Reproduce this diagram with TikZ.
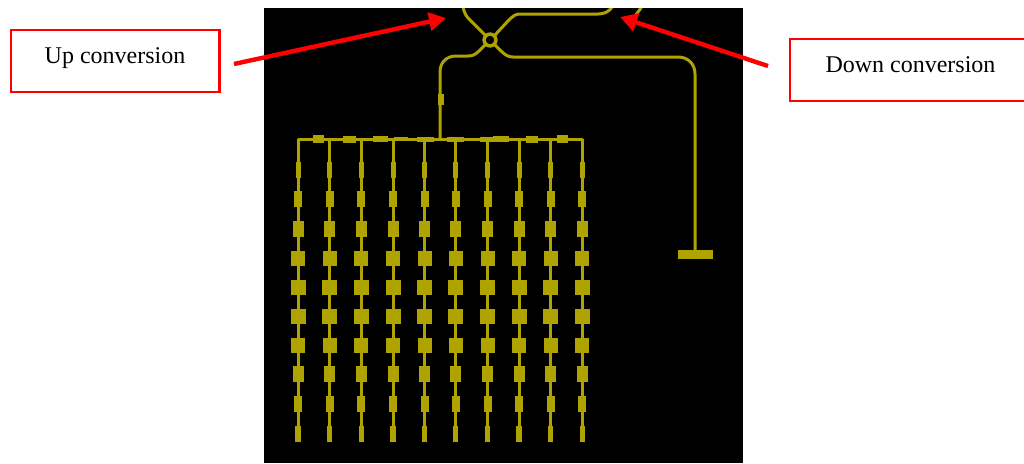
\documentclass[tikz,border=0pt]{standalone}
\usepackage{fontspec}
\setmainfont{Liberation Serif}
\usetikzlibrary{arrows.meta}
\definecolor{patch}{HTML}{AFA300}
\definecolor{redline}{HTML}{FF0000}
\tikzset{
  trace/.style={draw=patch,line width=3pt,line join=round},
  pad/.style={fill=patch,draw=none},
  callout/.style={draw=redline,line width=2.2pt,inner sep=0pt},
  label/.style={font=\fontsize{24}{27}\selectfont,inner sep=0pt,anchor=base},
  pointer/.style={draw=redline,line width=4.4pt,-{Triangle[length=17pt,width=18pt]}}
}
\newcommand{\padat}[4]{\fill[pad] ({#1-#3/2},{#2-#4/2}) rectangle ({#1+#3/2},{#2+#4/2});}
\begin{document}
\begin{tikzpicture}[x=1pt,y=-1pt]
\useasboundingbox (0,0) rectangle (1024,463);
\fill[white] (0,0) rectangle (1024,463);
\fill[black] (264,8) rectangle (743,463);
% coupler and feed lines
\begin{scope}
\clip (264,8) rectangle (743,463);
\draw[trace] (463,6) .. controls (464,14) and (467,17) .. (470,20) -- (485,35);
\draw[trace] (495,35) -- (508,21) .. controls (513,16) and (515,14) .. (520,14) -- (598,14) .. controls (604,14) and (609,12) .. (613,6);
\draw[trace] (485,45) -- (479,51) .. controls (475,55) and (472,56) .. (468,56) -- (456,56) .. controls (447,56) and (440,62) .. (440,72) -- (440,139);
\draw[trace] (495,45) -- (500,50) .. controls (505,55) and (508,57) .. (513,57) -- (678,57) .. controls (688,57) and (695,64) .. (695,74) -- (695,252);
\draw[trace] (642,6) .. controls (640,10) and (637,13) .. (635,16);
\draw[patch,line width=3.5pt] (490,40) circle (5.9pt);
\end{scope}
\padat{695}{254.5}{35}{9}
\padat{440.5}{99}{6}{11}
% corporate feed
\draw[trace] (298,145) -- (298,139) -- (582.5,139) -- (582.5,145);
\foreach \cx/\cw/\ch in {318/11/8,349/13/7,380/15/6,401/14/4,425/17/5,455/17/5,486.5/14/5,500.5/16/6,531.5/12/7,562/11/8}
  {\padat{\cx}{139}{\cw}{\ch}}
% element columns
\foreach \colx in {298,329.7,361.3,393,424.7,455.7,487.7,519,550.7,582.4}{
  \draw[trace] (\colx,139) -- (\colx,437);
  \foreach \rowy/\pw/\ph in {169.5/5/16,199/8/16,229/11/16,258/14/15,287.3/15/15,316/15/15,345.3/14/15,374/11/16,404/8/16,433.5/5.5/16}
    {\padat{\colx}{\rowy}{\pw}{\ph}}
}
% callouts
\node[callout,minimum width=208.5pt,minimum height=62pt] (upbox) at (115.2,61) {};
\node[label] (uptext) at (115,63.5) {Up conversion};
\node[callout,minimum width=240pt,minimum height=62pt,anchor=west] (downbox) at (788.5,70.3) {};
\node[label] (downtext) at (910.5,72) {Down conversion};
\coordinate (upstart) at (234,64);
\coordinate (uptip) at (446,18);
\coordinate (downstart) at (768,66);
\coordinate (downtip) at (620,17);
\draw[pointer] (upstart) -- (uptip);
\draw[pointer] (downstart) -- (downtip);
\end{tikzpicture}
\end{document}
